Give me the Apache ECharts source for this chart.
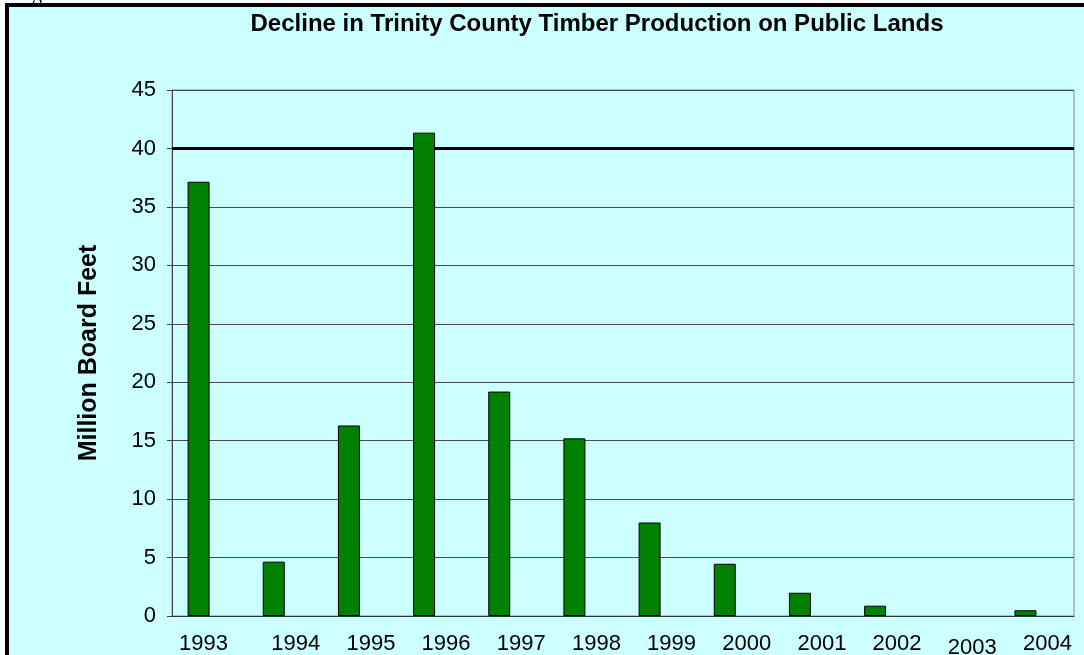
<!DOCTYPE html>
<html>
<head>
<meta charset="utf-8">
<style>
  html, body { margin: 0; padding: 0; background: #ffffff; }
  #chart { width: 1084px; height: 655px; }
</style>
<script src="https://cdn.jsdelivr.net/npm/echarts@6/dist/echarts.min.js"></script>
</head>
<body>
<div id="chart"></div>
<script>
// years and production (million board feet)
var years = ['1993', '1994', '1995', '1996', '1997', '1998', '1999', '2000', '2001', '2002', '2003', '2004'];
var production = [37.15, 4.65, 16.3, 41.35, 19.2, 15.2, 8.0, 4.47, 1.99, 0.88, 0, 0.49];
var referenceLevel = [40];
var yTicks = [0, 45, 5]; // min, max, interval

var myChart = echarts.init(document.getElementById('chart'));

// zero years get no outline, like the original
var barData = production.map(function (v) {
    return v === 0 ? { value: v, itemStyle: { borderWidth: 0 } } : v;
});

var option = {
    backgroundColor: '#ffffff',
    animation: false,
    textStyle: { fontFamily: 'Liberation Sans, Arial, sans-serif' },
    graphic: [
        { // chart frame
            type: 'rect', z: -10,
            shape: { x: 7, y: 5, width: 1100, height: 700 },
            style: { fill: '#ccffff', stroke: '#000000', lineWidth: 4 }
        },
        { // cut-off caption letter above the frame
            type: 'text', left: 32, top: -15,
            style: { text: 'g', fill: '#000', font: '20px "Liberation Serif", serif' }
        }
    ],
    title: {
        text: 'Decline in Trinity County Timber Production on Public Lands',
        left: 592, top: 7, textAlign: 'center',
        textStyle: { fontSize: 24, fontWeight: 'bold', color: '#000', fontFamily: 'Liberation Sans, Arial, sans-serif' }
    },
    grid: {
        left: 172, top: 90, right: 10, bottom: 39,
        outerBoundsMode: 'none',
        containLabel: false,
        show: true, borderColor: '#888', borderWidth: 1, backgroundColor: 'transparent'
    },
    xAxis: {
        type: 'category',
        data: years,
        axisLine: { lineStyle: { color: '#333', width: 1 } },
        axisTick: { length: 6, lineStyle: { color: '#333' } },
        axisLabel: {
            interval: 0,
            color: '#000', fontSize: 22, margin: 17,
            padding: [0, 0, 0, 22],
            formatter: function (v) {
                if (v === '1993') return '{a|' + v + '}';
                if (v === '2003') return '{b|' + v + '}';
                return v;
            },
            rich: {
                a: { fontSize: 22, color: '#000', padding: [0, 34, 0, 0] },
                b: { fontSize: 22, color: '#000', padding: [4, 0, 0, 0] }
            }
        }
    },
    yAxis: {
        type: 'value',
        min: yTicks[0], max: yTicks[1], interval: yTicks[2],
        name: 'Million Board Feet',
        nameLocation: 'middle', nameGap: 70,
        nameTextStyle: { fontSize: 25, fontWeight: 'bold', color: '#000' },
        axisLine: { show: true, lineStyle: { color: '#444', width: 1 } },
        axisTick: { show: true, length: 5, lineStyle: { color: '#444' } },
        axisLabel: { color: '#000', fontSize: 22, margin: 16, padding: [6, 0, 0, 0] },
        splitLine: { lineStyle: { color: '#4a4a4a', width: 1 } }
    },
    series: [
        {
            name: 'Production',
            type: 'bar',
            z: 3,
            barWidth: 22,
            barGap: '0%',
            data: barData,
            itemStyle: { color: '#008000', borderColor: '#000', borderWidth: 1 }
        },
        {
            name: 'Level',
            type: 'bar',
            z: 1,
            barWidth: 22,
            data: [],
            markLine: {
                z: 1,
                silent: true,
                symbol: 'none',
                label: { show: false },
                lineStyle: { color: '#000', width: 3, type: 'solid' },
                data: [{ yAxis: referenceLevel[0] }]
            }
        }
    ]
};

myChart.setOption(option);
</script>
</body>
</html>
